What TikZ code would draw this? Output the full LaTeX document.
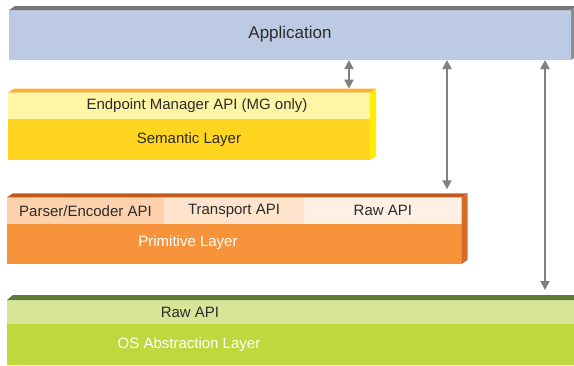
\documentclass[tikz,border=0pt]{standalone}
\usepackage{fontspec}
\setmainfont{Liberation Sans}
\usepackage{tikz}
\usetikzlibrary{arrows.meta}
\usepackage{xcolor}

\definecolor{appface}{HTML}{BCCAE4}
\definecolor{apptop}{HTML}{777777}
\definecolor{appside}{HTML}{8E8E8E}
\definecolor{semband}{HTML}{FFF6A5}
\definecolor{semface}{HTML}{FFD520}
\definecolor{semtopc}{HTML}{FBB034}
\definecolor{semside}{HTML}{FFEC00}
\definecolor{primcellA}{HTML}{FDD2AC}
\definecolor{primcellB}{HTML}{FEE4CD}
\definecolor{primcellC}{HTML}{FEF0E4}
\definecolor{primface}{HTML}{F7933B}
\definecolor{primtopc}{HTML}{C35A1C}
\definecolor{primside}{HTML}{D66C2C}
\definecolor{osband}{HTML}{D6E597}
\definecolor{osface}{HTML}{BED83E}
\definecolor{ostopc}{HTML}{5F7B3C}
\definecolor{txtgray}{HTML}{2B2B2B}
\definecolor{arrgray}{HTML}{808080}

\tikzset{
  face/.style={anchor=north west, inner sep=0pt, outer sep=0pt},
  lbl/.style={font=\fontsize{15}{18}\selectfont, text=txtgray, inner sep=0pt},
  updown/.style={draw=arrgray, line width=1.8pt,
    {Triangle[length=9pt,width=9pt]}-{Triangle[length=9pt,width=9pt]}}
}

\begin{document}
\begin{tikzpicture}[x=1pt,y=-1pt]
\useasboundingbox (0,0) rectangle (574,365);
\clip (0,0) rectangle (574,365);

% application
\node[face, fill=appface, minimum width=562pt, minimum height=50pt] (app) at (9,10) {};
\fill[apptop] (app.north west) -- ++(6,-4) -- ([xshift=6pt,yshift=4pt]app.north east) -- (app.north east) -- cycle;
\fill[appside] (app.north east) -- ++(6,-4) -- ([xshift=6pt,yshift=4pt]app.south east) -- (app.south east) -- cycle;
\node[lbl, font=\fontsize{17}{20}\selectfont] (applbl) at (290,34) {Application};

% semantic layer
\node[face, fill=semface, minimum width=362pt, minimum height=67.3pt] (sem) at (8,92.7) {};
\node[face, fill=semband, minimum width=362pt, minimum height=26.6pt] (ep) at (8,92.7) {};
\fill[semtopc] (sem.north west) -- ++(6,-4) -- ([xshift=6pt,yshift=4pt]sem.north east) -- (sem.north east) -- cycle;
\fill[semside] (sem.north east) -- ++(6,-4) -- ([xshift=6pt,yshift=4pt]sem.south east) -- (sem.south east) -- cycle;
\node[lbl] (eplbl) at (197,106) {Endpoint Manager API (MG only)};
\node[lbl] (semlbl) at (189,139.5) {Semantic Layer};

% primitive layer
\node[face, fill=primface, minimum width=454.7pt, minimum height=66.7pt] (prim) at (7,197.3) {};
\foreach \n/\x/\w/\c/\t in {p1/7/157/primcellA/{Parser/Encoder API}, p2/164/140/primcellB/{Transport API}, p3/304/157.7/primcellC/{Raw API}}
  \node[face, fill=\c, minimum width=\w pt, minimum height=26.7pt] (\n) at (\x,197.3) {};
\foreach \n/\t in {p1/{Parser/Encoder API}, p2/{Transport API}, p3/{Raw API}}
  \node[lbl] (\n lbl) at (\n.center) {\t};
\fill[primtopc] (prim.north west) -- ++(6,-4) -- ([xshift=6pt,yshift=4pt]prim.north east) -- (prim.north east) -- cycle;
\fill[primside] (prim.north east) -- ++(6,-4) -- ([xshift=6pt,yshift=4pt]prim.south east) -- (prim.south east) -- cycle;
\node[lbl, text=white] (primlbl) at (188,243) {Primitive Layer};

% os abstraction layer
\node[face, fill=osface, minimum width=567pt, minimum height=65pt] (os) at (7,300) {};
\node[face, fill=osband, minimum width=567pt, minimum height=24.3pt] (osraw) at (7,300) {};
\fill[ostopc] (os.north west) -- ++(6,-5) -- ([xshift=6pt,yshift=5pt]os.north east) -- (os.north east) -- cycle;
\node[lbl] (osrawlbl) at (190,312) {Raw API};
\node[lbl, text=white] (oslbl) at (189,344.5) {OS Abstraction Layer};

% interfaces
\coordinate (c1) at (349,0);
\coordinate (c2) at (447,0);
\coordinate (c3) at (545,0);
\coordinate (semtop) at ([yshift=4pt]sem.north);
\coordinate (primtop) at ([yshift=4pt]prim.north);
\coordinate (ostop) at ([yshift=5pt]os.north);
\draw[updown] (app.south -| c1) -- (semtop -| c1);
\draw[updown, shorten >=4pt] (app.south -| c2) -- (primtop -| c2);
\draw[updown, shorten >=5pt] (app.south -| c3) -- (ostop -| c3);
\end{tikzpicture}
\end{document}
